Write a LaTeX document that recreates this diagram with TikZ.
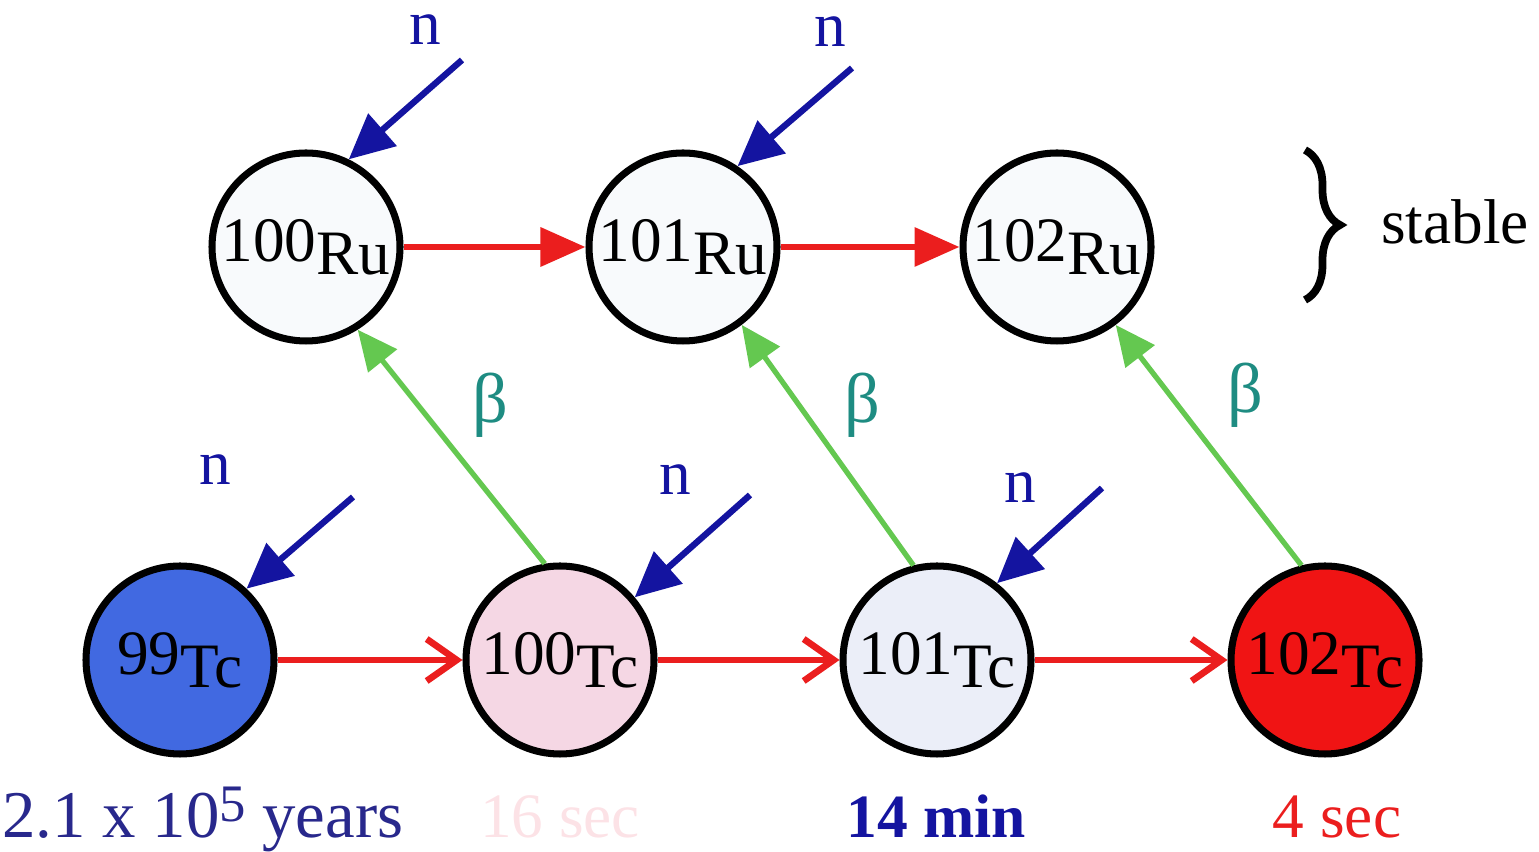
\documentclass[tikz,border=0pt]{standalone}
\usepackage{fontspec}
\setmainfont{Liberation Serif}
\usepackage{xcolor}
\usetikzlibrary{arrows.meta,decorations.pathreplacing}

\definecolor{rxred}{RGB}{235,30,30}
\definecolor{nblue}{RGB}{20,20,160}
\definecolor{yrblue}{RGB}{40,40,140}
\definecolor{bgreen}{RGB}{100,200,80}
\definecolor{bteal}{RGB}{30,140,130}
\definecolor{tcninefill}{RGB}{65,105,225}
\definecolor{tconefill}{RGB}{245,215,228}
\definecolor{tctwofill}{RGB}{235,238,248}
\definecolor{tcthreefill}{RGB}{240,20,20}
\definecolor{rufill}{RGB}{248,250,252}
\definecolor{faintpink}{RGB}{252,226,230}

\begin{document}
\begin{tikzpicture}[
	nuc/.style={
		draw, line width=2pt, circle, inner sep=0pt,
		minimum size=1.88cm, font=\fontsize{18}{20}\selectfont
	},
	lbl/.style={font=\fontsize{18}{20}\selectfont},
	capture/.style={-{Triangle[length=0.45cm,width=0.42cm]}, line width=1.8pt, nblue},
	decay/.style={-{Triangle[length=0.4cm,width=0.36cm]}, line width=1.5pt, bgreen},
	topflow/.style={-{Triangle[length=0.45cm,width=0.38cm]}, line width=1.9pt, rxred},
	botflow/.style={-{Straight Barb[length=0.3cm,width=0.42cm]}, line width=1.9pt, rxred},
	]
	\useasboundingbox (0,0) rectangle (15.39,8.52);
	
	% Ru row (y=6.05)
	\node[nuc, fill=rufill] (ru100) at (3.06, 6.05)  {100\raisebox{-0.45ex}{Ru}};
	\node[nuc, fill=rufill] (ru101) at (6.83, 6.05)  {101\raisebox{-0.45ex}{Ru}};
	\node[nuc, fill=rufill] (ru102) at (10.57, 6.05) {102\raisebox{-0.45ex}{Ru}};
	
	% Tc row (y=1.92)
	\node[nuc, fill=tcninefill]  (tc99)  at (1.80, 1.92)  {99\raisebox{-0.45ex}{Tc}};
	\node[nuc, fill=tconefill]   (tc100) at (5.60, 1.92)  {100\raisebox{-0.45ex}{Tc}};
	\node[nuc, fill=tctwofill]   (tc101) at (9.37, 1.92)  {101\raisebox{-0.45ex}{Tc}};
	\node[nuc, fill=tcthreefill] (tc102) at (13.25, 1.92) {102\raisebox{-0.45ex}{Tc}};
	
	% Stable bracket
	\node[lbl] (stable) at (14.55, 6.30) {stable};
	\coordinate (brtop) at (13.05, 7.02);
	\coordinate (brbot) at (13.05, 5.52);
	\draw[line width=2.2pt, decorate, decoration={brace, amplitude=0.35cm}] (brtop) -- (brbot);
	
	% Neutron sources
	\coordinate (nsA) at (4.62, 7.92);
	\coordinate (nsB) at (8.52, 7.84);
	\coordinate (nsC) at (3.53, 3.55);
	\coordinate (nsD) at (7.50, 3.57);
	\coordinate (nsE) at (11.02, 3.64);
	\node[lbl, nblue] (nA) at (4.25, 8.22)  {n};
	\node[lbl, nblue] (nB) at (8.30, 8.20)  {n};
	\node[lbl, nblue] (nC) at (2.15, 3.82)  {n};
	\node[lbl, nblue] (nD) at (6.75, 3.72)  {n};
	\node[lbl, nblue] (nE) at (10.20, 3.64) {n};
	
	% Beta labels
	\node[lbl, bteal, font=\fontsize{20}{22}\selectfont] (bA) at (4.90, 4.47)  {β};
	\node[lbl, bteal, font=\fontsize{20}{22}\selectfont] (bB) at (8.62, 4.47)  {β};
	\node[lbl, bteal, font=\fontsize{20}{22}\selectfont] (bC) at (12.45, 4.57) {β};
	
	% Half-lives
	\node[lbl, yrblue, anchor=base, font=\fontsize{19}{21}\selectfont] (hl99) at (2.03, 0.14) {2.1 x 10\raisebox{0.55ex}{\fontsize{15}{16}\selectfont 5} years};
	\node[lbl, faintpink, anchor=base] (hl100) at (5.60, 0.14) {16 sec};
	\node[lbl, nblue, anchor=base, font=\fontsize{17.5}{20}\bfseries] (hl101) at (9.36, 0.14) {14 min};
	\node[lbl, rxred, anchor=base] (hl102) at (13.37, 0.14) {4 sec};
	
	% Capture arrows
	\draw[topflow] (ru100) -- (ru101);
	\draw[topflow] (ru101) -- (ru102);
	\draw[botflow] (tc99)  -- (tc100);
	\draw[botflow] (tc100) -- (tc101);
	\draw[botflow] (tc101) -- (tc102);
	
	% n arrows
	\draw[capture] (nsA) -- (ru100.64);
	\draw[capture] (nsB) -- (ru101.56);
	\draw[capture] (nsC) -- (tc99.47);
	\draw[capture] (nsD) -- (tc100.40);
	\draw[capture] (nsE) -- (tc101.52);
	
	% Beta decays
	\draw[decay] (tc100.99)  -- (ru100.-58);
	\draw[decay] (tc101.104) -- (ru101.-53);
	\draw[decay] (tc102.104) -- (ru102.-53);
	
\end{tikzpicture}
\end{document}
